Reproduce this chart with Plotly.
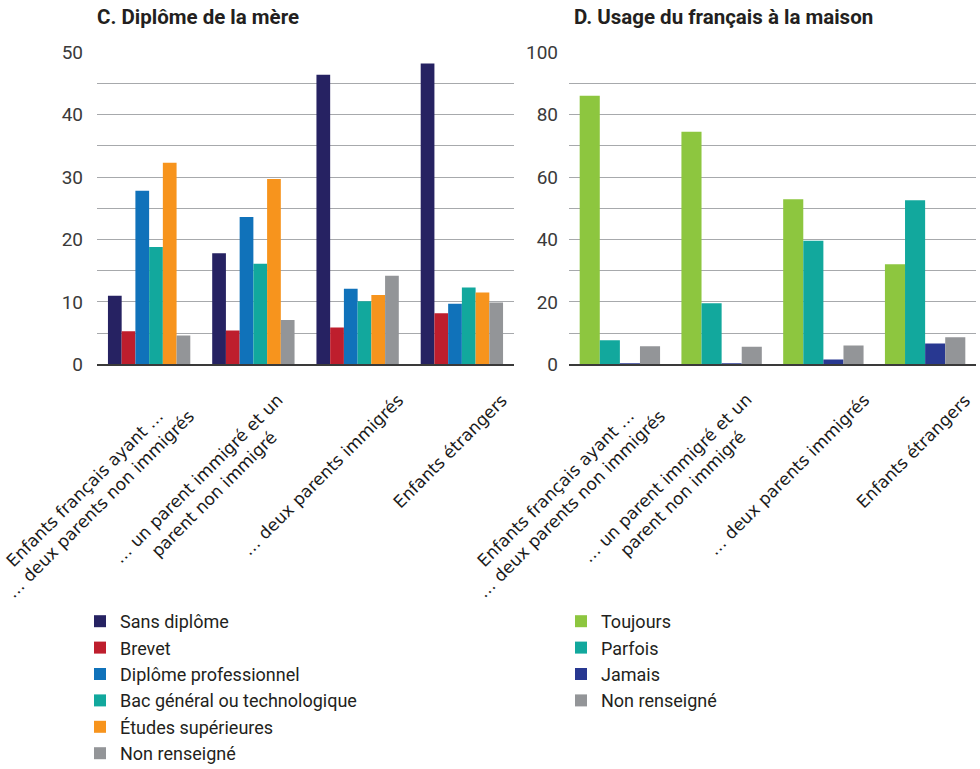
import plotly.graph_objects as go

# ---------------- data ----------------
categories = [
    "Enfants français ayant …<br>… deux parents non immigrés",
    "… un parent immigré et un<br>parent non immigré",
    "… deux parents immigrés",
    "Enfants étrangers",
]

diplome_series = ["Sans diplôme", "Brevet", "Diplôme professionnel",
                  "Bac général ou technologique", "Études supérieures", "Non renseigné"]
sans_diplome = [11.0, 17.8, 46.4, 48.2]
brevet = [5.3, 5.4, 5.9, 8.2]
diplome_pro = [27.8, 23.6, 12.1, 9.7]
bac = [18.8, 16.1, 10.1, 12.3]
etudes_sup = [32.3, 29.7, 11.1, 11.5]
non_renseigne_c = [4.6, 7.1, 14.2, 9.9]

usage_series = ["Toujours", "Parfois", "Jamais", "Non renseigné"]
toujours = [86.1, 74.5, 52.9, 32.1]
parfois = [7.7, 19.6, 39.6, 52.6]
jamais = [0.3, 0.3, 1.5, 6.7]
non_renseigne_d = [5.8, 5.6, 6.0, 8.7]

title_c = "C. Diplôme de la mère"
title_d = "D. Usage du français à la maison"

# ---------------- style ----------------
colors_c = ["#262262", "#be1e2d", "#1072ba", "#12a89d", "#f7941d", "#939598"]
colors_d = ["#8dc63f", "#12a89d", "#283891", "#939598"]
W, H = 980, 769
TXT = "#231f20"
GRID = "#a7a9ac"
FONT = "Roboto, Liberation Sans, sans-serif"

fig = go.Figure()

values_c = [sans_diplome, brevet, diplome_pro, bac, etudes_sup, non_renseigne_c]
for name, vals, col in zip(diplome_series, values_c, colors_c):
    fig.add_trace(go.Bar(x=categories, y=vals, name=name, marker_color=col,
                         marker_line_width=0, xaxis="x", yaxis="y",
                         legend="legend", offsetgroup=name + "c"))

values_d = [toujours, parfois, jamais, non_renseigne_d]
for name, vals, col in zip(usage_series, values_d, colors_d):
    fig.add_trace(go.Bar(x=categories, y=vals, name=name, marker_color=col,
                         marker_line_width=0, xaxis="x2", yaxis="y2",
                         legend="legend2", offsetgroup=name + "d"))

y0 = 1 - 364.3 / H
y1 = 1 - 52.3 / H
dom_c = [97 / W, 514 / W]
dom_d = [569 / W, 976 / W]

axis_font = dict(family=FONT, size=19, color="#3a3a3a")

common_x = dict(type="category", range=[-0.5, len(categories) - 0.5],
                showticklabels=False, ticks="", showline=True,
                linecolor="#3a3a3a", linewidth=1.5, showgrid=False, zeroline=False,
                fixedrange=True)
fig.update_layout(
    width=W, height=H,
    margin=dict(l=0, r=0, t=0, b=0, autoexpand=False),
    paper_bgcolor="white", plot_bgcolor="white",
    barmode="group",
    bargap=0.21, bargroupgap=0,
    xaxis=dict(domain=dom_c, anchor="y", **common_x),
    xaxis2=dict(domain=dom_d, anchor="y2", **common_x),
    yaxis=dict(domain=[y0, y1], range=[0, 50], dtick=10, tick0=0, anchor="x",
               showgrid=True, gridcolor=GRID, gridwidth=1, zeroline=False,
               tickfont=axis_font, ticks="", ticklabelstandoff=13, fixedrange=True,
               minor=dict(dtick=5, showgrid=True, gridcolor=GRID, gridwidth=1)),
    yaxis2=dict(domain=[y0, y1], range=[0, 100], dtick=20, tick0=0, anchor="x2",
                showgrid=True, gridcolor=GRID, gridwidth=1, zeroline=False,
                tickfont=axis_font, ticks="", ticklabelstandoff=10, fixedrange=True,
                minor=dict(dtick=10, showgrid=True, gridcolor=GRID, gridwidth=1)),
    legend=dict(x=80 / W, y=1 - 603 / H, xanchor="left", yanchor="top",
                font=dict(family=FONT, size=18, color=TXT),
                bgcolor="rgba(0,0,0,0)", tracegroupgap=0),
    legend2=dict(x=561 / W, y=1 - 603 / H, xanchor="left", yanchor="top",
                 font=dict(family=FONT, size=18, color=TXT),
                 bgcolor="rgba(0,0,0,0)", tracegroupgap=0),
    showlegend=True,
)

annotations = []
for xref, yref in (("x", "y"), ("x2", "y2")):
    for cat in categories:
        annotations.append(dict(
            x=cat, y=0, xref=xref, yref=yref, text=cat, showarrow=False,
            textangle=-45, align="center", xanchor="right", yanchor="top",
            xshift=52, yshift=-23,
            font=dict(family="DejaVu Sans, sans-serif", size=17, color="#1a1a1a")))

for txt, xpx in ((title_c, 95), (title_d, 571.7)):
    annotations.append(dict(
        x=xpx / W, y=1 - 17 / H, xref="paper", yref="paper", text="<b>" + txt + "</b>",
        showarrow=False, xanchor="left", yanchor="middle",
        font=dict(family=FONT, size=20.5, color=TXT)))

fig.update_layout(annotations=annotations)

fig.write_html("out.html", config={"displayModeBar": False},
               post_script="document.body.style.margin='0';document.body.style.overflow='hidden';")
